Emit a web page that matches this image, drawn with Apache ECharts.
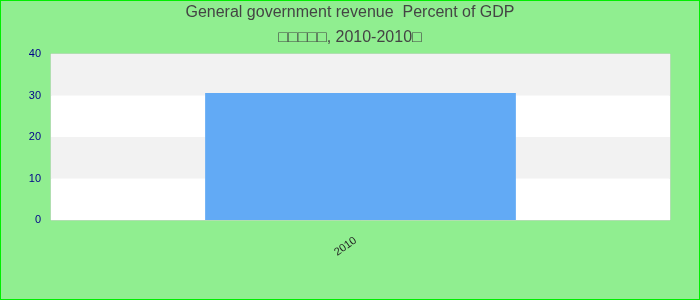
<!DOCTYPE html>
<html><head><meta charset="utf-8">
<script src="https://cdn.jsdelivr.net/npm/echarts@6/dist/echarts.min.js"></script>
<style>html,body{margin:0;padding:0;}#c{width:700px;height:300px;box-sizing:border-box;border:1px solid #00ee00;background:#90ee90;}</style>
</head><body><div id="c"></div>
<script>
const categories = ['2010'];
const values = [30.6];
const yTicks = [0, 10, 20, 30, 40];
const titleText = 'General government revenue  Percent of GDP';
const subText = '\u25a1\u25a1\u25a1\u25a1\u25a1, 2010-2010\u25a1';
const chart = echarts.init(document.getElementById('c'), null, {renderer:'canvas'});
chart.setOption({
  backgroundColor: 'transparent',
  animation: false,
  title: {
    text: titleText, subtext: subText, left: 'center', top: -1, itemGap: 9,
    textStyle: {fontFamily: 'Liberation Sans, Arial', fontSize: 16, fontWeight: 'normal', color: '#444'},
    subtextStyle: {fontFamily: 'Liberation Sans, Arial', fontSize: 16, color: '#444'}
  },
  grid: {left: 50, right: 29, top: 53, bottom: 79, show: true, borderColor: '#d0d0d0', borderWidth: 1, backgroundColor: '#fff'},
  xAxis: {
    type: 'category', data: categories,
    axisLine: {show: false}, axisTick: {show: false},
    axisLabel: {rotate: 35, color: '#222', fontSize: 11, fontFamily: 'Liberation Sans, Arial', margin: 16, padding: [0, 6, 0, 0]}
  },
  yAxis: {
    type: 'value', min: yTicks[0], max: yTicks[yTicks.length-1], interval: 10,
    axisLine: {show: false}, axisTick: {show: false}, splitLine: {show: false},
    splitArea: {show: true, areaStyle: {color: ['#ffffff', '#f2f2f2']}},
    axisLabel: {color: '#00008b', fontSize: 11, fontFamily: 'Liberation Sans, Arial', margin: 10}
  },
  series: [{type: 'bar', data: values, barWidth: '50.2%', itemStyle: {color: '#62aaf5'}}]
});
</script></body></html>
